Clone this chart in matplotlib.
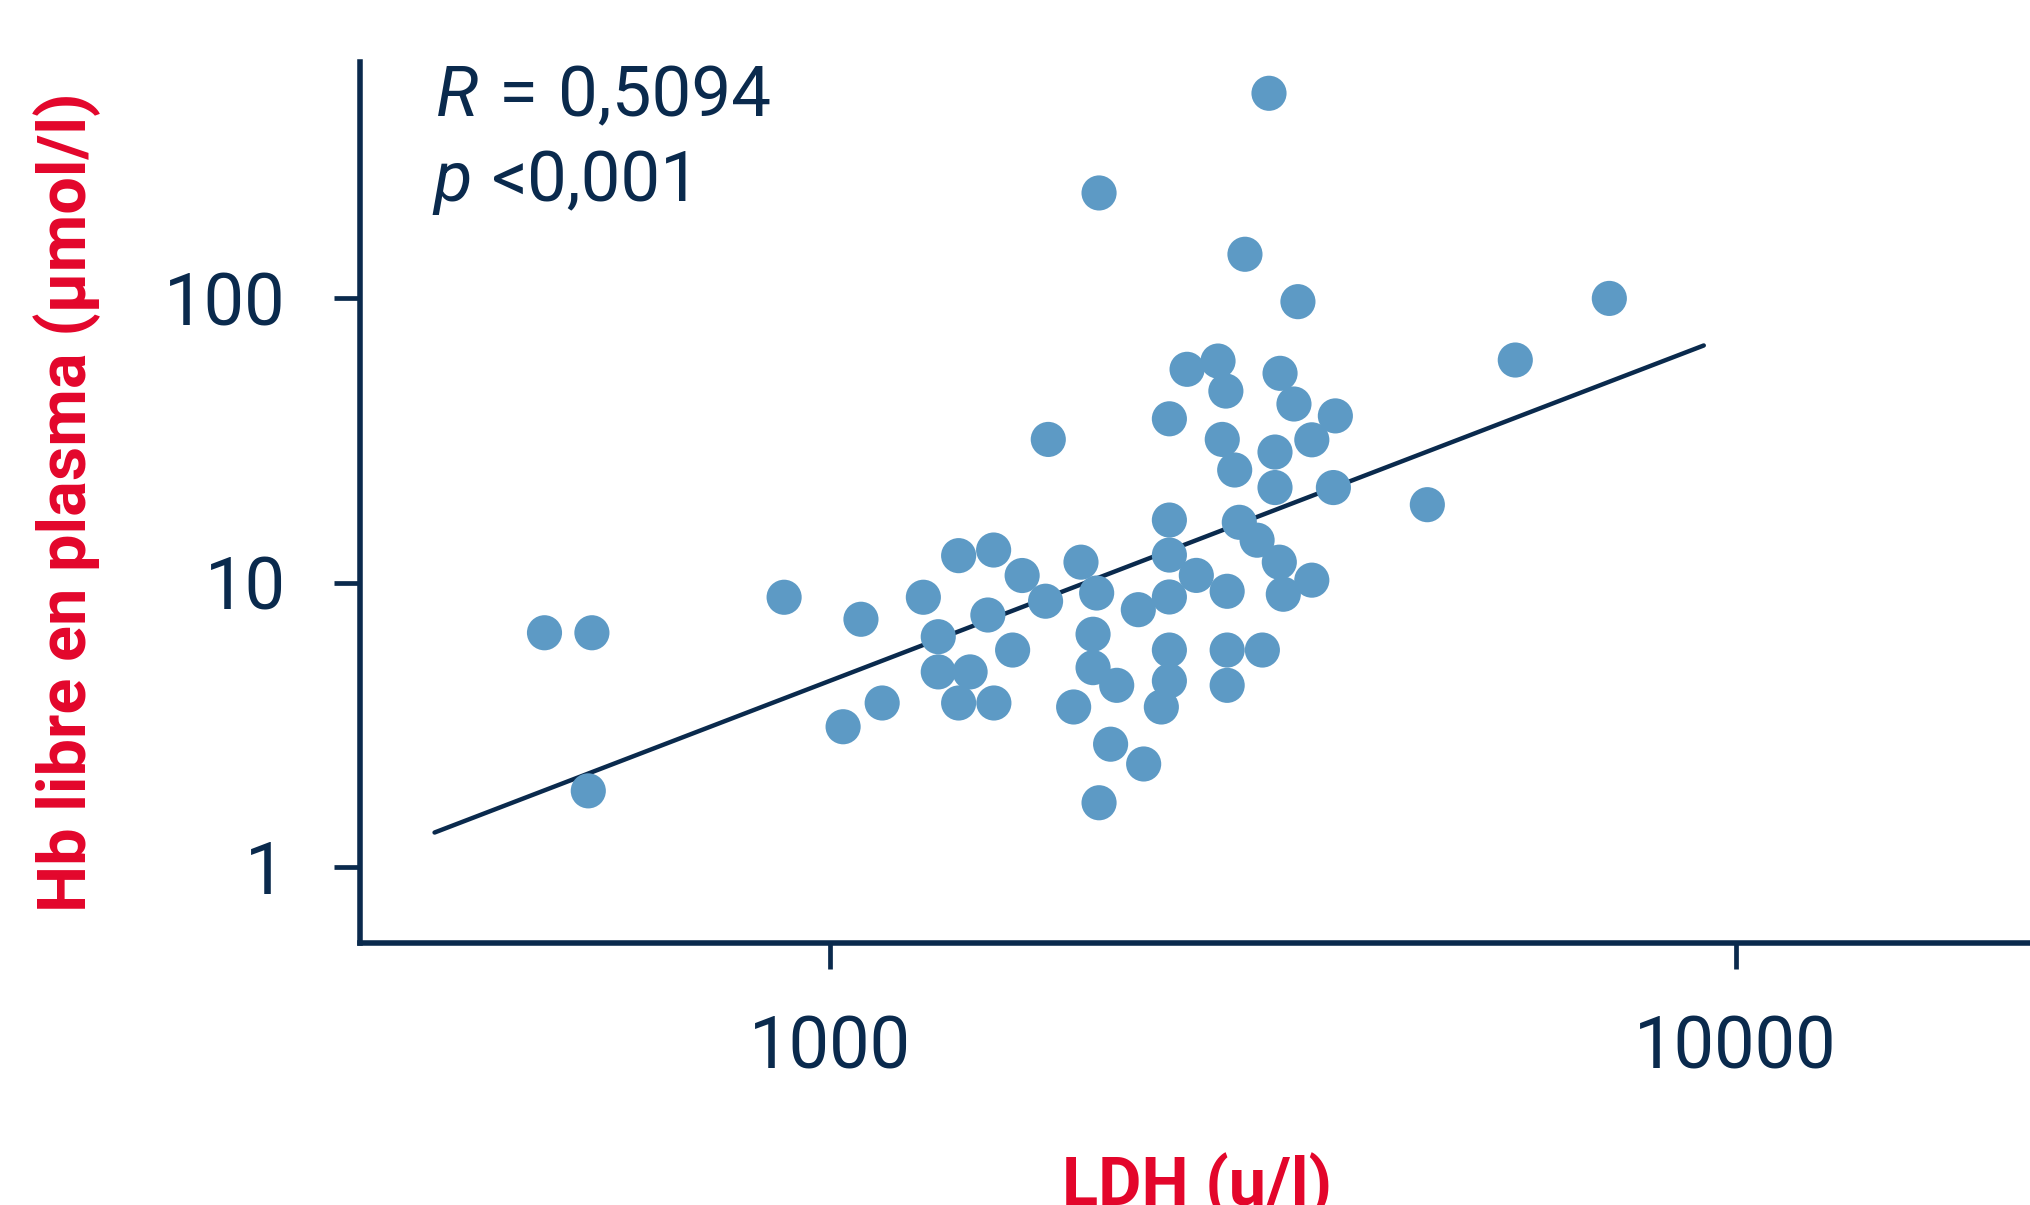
import matplotlib
matplotlib.use("Agg")
import matplotlib.pyplot as plt
from matplotlib.ticker import FixedLocator, NullLocator

# LDH (u/l) y Hb libre en plasma (µmol/l)
ldh = [484, 546, 541, 890, 1082, 1034, 1142, 1268, 1317, 1317,
       1428, 1387, 1517, 1387, 1516, 1494, 1591, 1630, 1742, 2479,
       2682, 2736, 3140, 3253, 3614, 2370, 2711, 2798, 3100, 3404,
       3100, 3596, 2370, 2831, 2962, 3134, 3404, 3166, 2370, 2538,
       2745, 2370, 2190, 1970, 1893, 1730, 1952, 1952, 2073, 1858,
       2370, 2370, 2322, 2745, 3002, 2745, 2041, 2220, 1982, 3053,
       1982, 2872, 3286, 7252, 5710, 4566]
hb = [6.66, 6.66, 1.85, 8.88, 7.43, 3.11, 3.77, 8.88, 6.45, 4.85,
      4.85, 3.77, 3.77, 12.44, 13.02, 7.69, 5.79, 10.59, 31.9, 56.3,
      60.2, 47.2, 54.5, 42.5, 38.6, 37.7, 31.9, 24.9, 28.8, 31.8,
      21.6, 21.6, 16.6, 16.3, 14.1, 11.8, 10.2, 9.10, 12.5, 10.6,
      9.32, 8.90, 8.03, 9.19, 11.8, 8.60, 6.58, 5.02, 4.35, 3.65,
      5.79, 4.51, 3.65, 5.79, 5.79, 4.35, 2.70, 2.30, 1.68, 527,
      235, 143, 97.4, 100, 60.7, 18.8]

# recta de regresión (extremos)
fit_x = [366, 9220]
fit_y = [1.32, 68.3]

x_ticks = [1000, 10000]
x_ticklabels = ["1000", "10000"]
y_ticks = [1, 10, 100]
y_ticklabels = ["1", "10", "100"]

r_text = "0,5094"
p_text = "<0,001"

NAVY = "#0a2a4d"
BLUE = "#5d9ac5"
RED = "#e3062b"

plt.rcParams['font.family'] = ['Roboto', 'DejaVu Sans']

fig = plt.figure(figsize=(20.3, 12.05), dpi=100)
ax = fig.add_axes([0.17734, 0.21743, 0.82266, 0.73137])

ax.plot(fit_x, fit_y, color=NAVY, lw=3.2, solid_capstyle='round', zorder=2)
ax.scatter(ldh, hb, s=640, color=BLUE, edgecolors='none', zorder=3)

ax.set_xscale('log')
ax.set_yscale('log')
ax.set_xlim(302.8, 21130)
ax.set_ylim(0.5393, 680.7)

ax.xaxis.set_major_locator(FixedLocator(x_ticks))
ax.xaxis.set_minor_locator(NullLocator())
ax.yaxis.set_major_locator(FixedLocator(y_ticks))
ax.yaxis.set_minor_locator(NullLocator())
ax.set_xticklabels(x_ticklabels)
ax.set_yticklabels(y_ticklabels)

for s in ['top', 'right']:
    ax.spines[s].set_visible(False)
for s in ['left', 'bottom']:
    ax.spines[s].set_color(NAVY)
    ax.spines[s].set_linewidth(4)

ax.tick_params(axis='both', direction='out', length=18.5, width=3.4,
               color=NAVY, labelcolor=NAVY, labelsize=52)
ax.tick_params(axis='x', pad=33)
ax.tick_params(axis='y', pad=35)

# anotaciones R y p
ann = dict(fontsize=51, color=NAVY, ha='left', va='baseline')
fig.text(436 / 2030, 1 - 116 / 1205, "R", style='italic', **ann)
fig.text(499 / 2030, 1 - 116 / 1205, "=", **ann)
fig.text(558 / 2030, 1 - 116 / 1205, r_text, **ann)
fig.text(433 / 2030, 1 - 201 / 1205, "p", style='italic', **ann)
fig.text(492 / 2030, 1 - 201 / 1205, p_text, **ann)

# títulos de ejes
fig.text(86.4 / 2030, 0.583, "Hb libre en plasma (µmol/l)", rotation=90,
         rotation_mode='anchor', ha='center', va='baseline',
         fontsize=48, fontweight='bold', color=RED)
fig.text(1197.5 / 2030, 0.0, "LDH (u/l)", ha='center', va='baseline',
         fontsize=48, fontweight='bold', color=RED)

fig.savefig("out.png", dpi=100)
